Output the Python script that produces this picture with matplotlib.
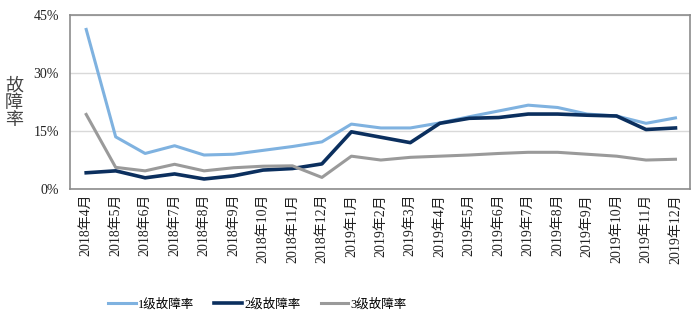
import matplotlib
matplotlib.use('Agg')
import matplotlib.pyplot as plt
from matplotlib.ticker import FuncFormatter

plt.rcParams['font.family'] = ['Liberation Serif', 'Noto Sans CJK SC']

months = ['2018年4月', '2018年5月', '2018年6月', '2018年7月', '2018年8月', '2018年9月',
          '2018年10月', '2018年11月', '2018年12月', '2019年1月', '2019年2月', '2019年3月',
          '2019年4月', '2019年5月', '2019年6月', '2019年7月', '2019年8月', '2019年9月',
          '2019年10月', '2019年11月', '2019年12月']
level1 = [41.3, 13.5, 9.2, 11.2, 8.8, 9.0, 10.0, 11.0, 12.2, 16.8, 15.8, 15.8,
          17.1, 18.7, 20.2, 21.7, 21.1, 19.4, 18.9, 17.0, 18.4]
level2 = [4.2, 4.7, 2.9, 3.9, 2.6, 3.4, 4.9, 5.3, 6.5, 14.8, 13.4, 12.0,
          17.0, 18.3, 18.5, 19.4, 19.4, 19.1, 18.9, 15.4, 15.8]
level3 = [19.3, 5.6, 4.7, 6.4, 4.7, 5.5, 5.9, 6.0, 3.0, 8.5, 7.5, 8.2,
          8.5, 8.8, 9.2, 9.5, 9.5, 9.0, 8.5, 7.5, 7.7]

fig = plt.figure(figsize=(7, 3.22), dpi=100)
ax = fig.add_axes([0.1, 0.413, 0.886, 0.54])

x = range(len(months))
ax.plot(x, level1, color='#7fb2e0', lw=2.2, label='1级故障率')
ax.plot(x, level2, color='#0b2f5e', lw=2.6, label='2级故障率')
ax.plot(x, level3, color='#9a9a9a', lw=2.2, label='3级故障率')

ax.set_ylim(0, 45)
ax.set_yticks([0, 15, 30, 45])
ax.yaxis.set_major_formatter(FuncFormatter(lambda v, p: f'{v:.0f}%'))
ax.set_xlim(-0.55, len(months) - 0.5)
ax.set_xticks(list(x))
ax.set_xticklabels(months, rotation=90, fontsize=10)
ax.tick_params(axis='both', length=0, labelsize=10, colors='#222222')
ax.tick_params(axis='y', pad=8)
ax.grid(axis='y', color='#d9d9d9', lw=1)
ax.set_axisbelow(True)
for s in ax.spines.values():
    s.set_color('#8c8c8c')
    s.set_linewidth(1.2)

fig.text(0.02, 0.68, '故\n障\n率', fontsize=13, color='#444444',
         ha='center', va='center', linespacing=1.0)

fig.legend(loc='lower center', bbox_to_anchor=(0.368, 0.0), ncol=3, frameon=False,
           fontsize=9, handlelength=2.2, handletextpad=0.2, columnspacing=1.6)

fig.savefig('out.png', dpi=100)
